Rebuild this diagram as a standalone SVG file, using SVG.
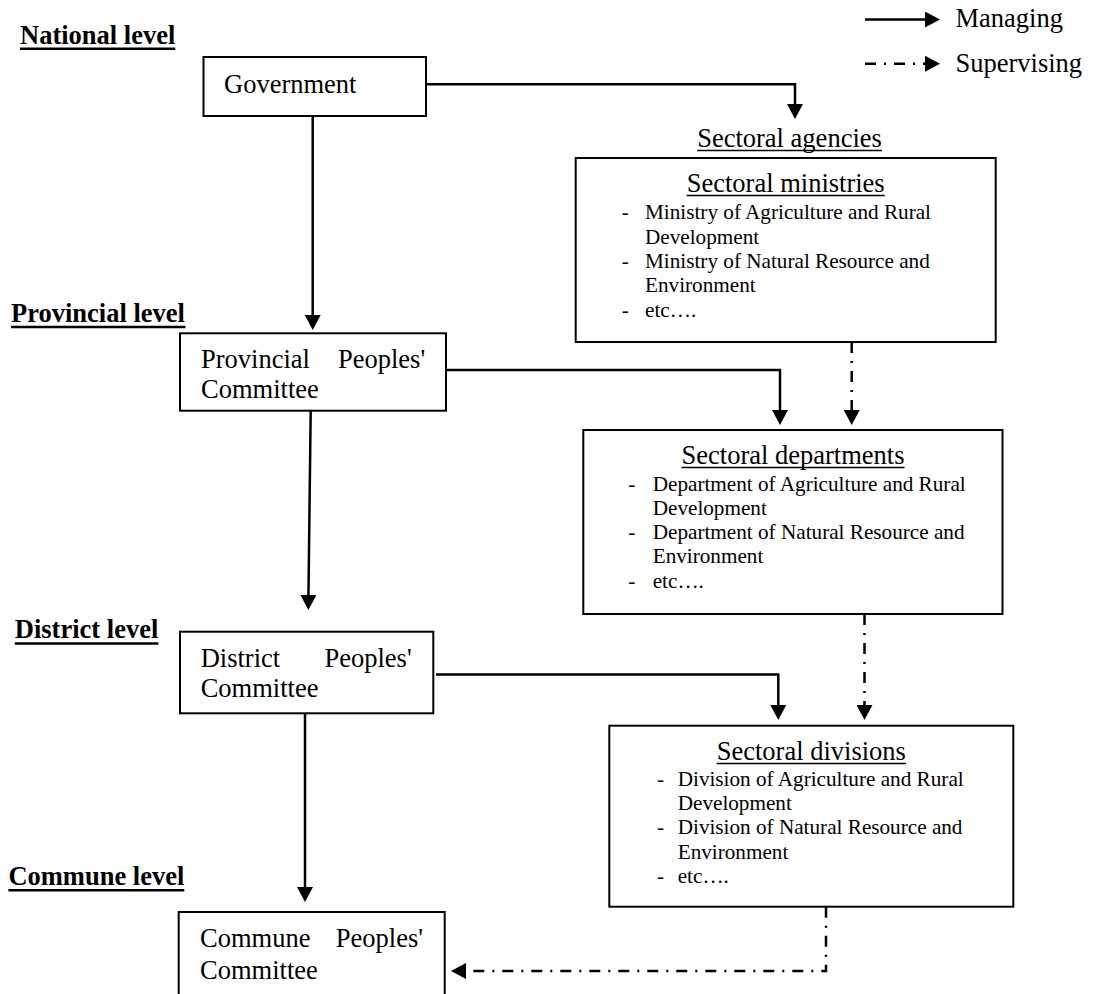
<svg xmlns="http://www.w3.org/2000/svg" width="1097" height="994" viewBox="0 0 1097 994">
<style>
  text { font-family: "Liberation Serif", "Times New Roman", serif; fill: #000; }
  .lvl { font-size: 26.5px; font-weight: bold; }
  .big { font-size: 26.5px; }
  .item { font-size: 21.2px; }
  .box { fill: #fff; stroke: #000; stroke-width: 2; }
  .ul { stroke: #000; stroke-width: 1.5; }
  .ulb { stroke: #000; stroke-width: 2.5; }
  .conn { fill: none; stroke: #000; stroke-width: 2.5; }
  .dd { stroke-dasharray: 11 8 2 8; }
</style>
<defs>
  <marker id="ah" viewBox="0 0 15 16" refX="5" refY="8" markerWidth="15" markerHeight="16" markerUnits="userSpaceOnUse" orient="auto">
    <path d="M0,0 L15,8 L0,16 z" fill="#000"/>
  </marker>
</defs>

<g id="legend">
  <line class="conn" x1="865" y1="19.5" x2="930" y2="19.5" marker-end="url(#ah)"/>
  <text class="big" x="955.5" y="27.4">Managing</text>
  <line class="conn dd" x1="865" y1="63.7" x2="930" y2="63.7" marker-end="url(#ah)"/>
  <text class="big" x="955.5" y="72">Supervising</text>
</g>

<g id="level-labels">
  <text class="lvl" x="20" y="43.5">National level</text>
  <line class="ulb" x1="20" y1="48.8" x2="175.3" y2="48.8"/>
  <text class="lvl" x="11" y="321.7">Provincial level</text>
  <line class="ulb" x1="11" y1="327" x2="185.4" y2="327"/>
  <text class="lvl" x="14.8" y="638.3">District level</text>
  <line class="ulb" x1="14.8" y1="643.6" x2="158.3" y2="643.6"/>
  <text class="lvl" x="8.4" y="885">Commune level</text>
  <line class="ulb" x1="8.4" y1="890.3" x2="184.3" y2="890.3"/>
</g>

<g id="government">
  <rect class="box" x="203.5" y="57" width="222.5" height="59"/>
  <text class="big" x="224" y="92.7">Government</text>
</g>

<g id="sectoral-agencies-label">
  <text class="big" x="789.5" y="147" text-anchor="middle">Sectoral agencies</text>
  <line class="ul" x1="697.2" y1="150.5" x2="881.9" y2="150.5"/>
</g>

<g id="sectoral-ministries">
  <rect class="box" x="575.7" y="158" width="420" height="184"/>
  <text class="big" x="785.7" y="192" text-anchor="middle">Sectoral ministries</text>
  <line class="ul" x1="686.7" y1="195.5" x2="884.7" y2="195.5"/>
  <text class="item" x="621.7" y="219.3">-</text>
  <text class="item" x="645" y="219.3">Ministry of Agriculture and Rural</text>
  <text class="item" x="645" y="243.5">Development</text>
  <text class="item" x="621.7" y="267.8">-</text>
  <text class="item" x="645" y="267.8">Ministry of Natural Resource and</text>
  <text class="item" x="645" y="292">Environment</text>
  <text class="item" x="621.7" y="316.5">-</text>
  <text class="item" x="645" y="316.5">etc….</text>
</g>

<g id="provincial-committee">
  <rect class="box" x="180" y="333.3" width="266" height="77.4"/>
  <text class="big" x="201" y="368">Provincial</text>
  <text class="big" x="425.2" y="368" text-anchor="end">Peoples'</text>
  <text class="big" x="201" y="398">Committee</text>
</g>

<g id="sectoral-departments">
  <rect class="box" x="583.3" y="430" width="419.2" height="184"/>
  <text class="big" x="793" y="464" text-anchor="middle">Sectoral departments</text>
  <line class="ul" x1="681.5" y1="467.5" x2="904.5" y2="467.5"/>
  <text class="item" x="628.3" y="490.5">-</text>
  <text class="item" x="652.7" y="490.5">Department of Agriculture and Rural</text>
  <text class="item" x="652.7" y="514.8">Development</text>
  <text class="item" x="628.3" y="539">-</text>
  <text class="item" x="652.7" y="539">Department of Natural Resource and</text>
  <text class="item" x="652.7" y="563.3">Environment</text>
  <text class="item" x="628.3" y="587.5">-</text>
  <text class="item" x="652.7" y="587.5">etc….</text>
</g>

<g id="district-committee">
  <rect class="box" x="180" y="631.7" width="253.3" height="81.6"/>
  <text class="big" x="200.7" y="666.7">District</text>
  <text class="big" x="411.7" y="666.7" text-anchor="end">Peoples'</text>
  <text class="big" x="200.7" y="696.7">Committee</text>
</g>

<g id="sectoral-divisions">
  <rect class="box" x="609.3" y="725.7" width="404" height="181"/>
  <text class="big" x="811.3" y="760" text-anchor="middle">Sectoral divisions</text>
  <line class="ul" x1="716.7" y1="763.5" x2="905.9" y2="763.5"/>
  <text class="item" x="657" y="785.7">-</text>
  <text class="item" x="677.7" y="785.7">Division of Agriculture and Rural</text>
  <text class="item" x="677.7" y="810">Development</text>
  <text class="item" x="657" y="834.3">-</text>
  <text class="item" x="677.7" y="834.3">Division of Natural Resource and</text>
  <text class="item" x="677.7" y="858.6">Environment</text>
  <text class="item" x="657" y="883">-</text>
  <text class="item" x="677.7" y="883">etc….</text>
</g>

<g id="commune-committee">
  <rect class="box" x="178.7" y="912" width="266" height="100"/>
  <text class="big" x="200" y="947">Commune</text>
  <text class="big" x="423" y="947" text-anchor="end">Peoples'</text>
  <text class="big" x="200" y="979">Committee</text>
</g>

<g id="connectors">
  <polyline class="conn" points="426,84.3 795,84.3 795,109" marker-end="url(#ah)"/>
  <line class="conn" x1="312.7" y1="116" x2="312.7" y2="320" marker-end="url(#ah)"/>
  <polyline class="conn" points="446,370 780,370 780,415" marker-end="url(#ah)"/>
  <line class="conn dd" x1="851.7" y1="342" x2="851.7" y2="415" marker-end="url(#ah)"/>
  <line class="conn" x1="310.7" y1="410.7" x2="308.4" y2="600" marker-end="url(#ah)"/>
  <polyline class="conn" points="436,674.5 778.3,674.5 778.3,710" marker-end="url(#ah)"/>
  <line class="conn dd" x1="864.5" y1="614" x2="864.5" y2="710" marker-end="url(#ah)"/>
  <line class="conn" x1="305" y1="713.3" x2="305" y2="892" marker-end="url(#ah)"/>
  <polyline class="conn dd" points="826,906.7 826,971 461,971" marker-end="url(#ah)"/>
</g>
</svg>
